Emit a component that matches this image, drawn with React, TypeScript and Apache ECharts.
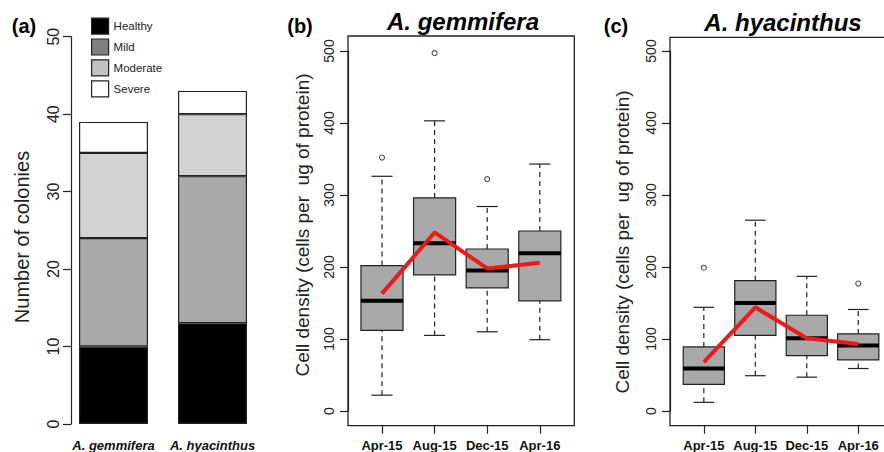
import React, { useEffect, useRef } from "react";
import * as echarts from "echarts";

// ---- Data ----
const speciesNames = ["A. gemmifera", "A. hyacinthus"];
const healthyCounts = [10, 13];
const mildCounts = [14, 19];
const moderateCounts = [11, 8];
const severeCounts = [4, 3];

const months = ["Apr-15", "Aug-15", "Dec-15", "Apr-16"];

// A. gemmifera boxplot stats
const gemLow = [22, 105, 110, 99];
const gemQ1 = [112, 189, 171, 153];
const gemMedian = [153, 233, 195, 219];
const gemQ3 = [202, 296, 225, 250];
const gemHigh = [326, 403, 284, 343];
const gemMean = [163, 248, 198, 206];
const gemOutliers = [[0, 352], [1, 497], [2, 322]];

// A. hyacinthus boxplot stats
const hyaLow = [12, 49, 47, 59];
const hyaQ1 = [37, 105, 77, 71];
const hyaMedian = [59, 150, 101, 91];
const hyaQ3 = [89, 181, 133, 107];
const hyaHigh = [144, 265, 187, 141];
const hyaMean = [68, 144, 101, 93];
const hyaOutliers = [[0, 199], [3, 177]];

const FONT = '"Liberation Sans", Arial, Helvetica, sans-serif';
const INK = "#222";

function boxData(lo: number[], q1: number[], med: number[], q3: number[], hi: number[]) {
  return lo.map((v, i) => [i, v, q1[i], med[i], q3[i], hi[i]]);
}

function renderBox(params: any, api: any) {
  const i = api.value(0);
  const pLo = api.coord([i, api.value(1)]);
  const pQ1 = api.coord([i, api.value(2)]);
  const pMed = api.coord([i, api.value(3)]);
  const pQ3 = api.coord([i, api.value(4)]);
  const pHi = api.coord([i, api.value(5)]);
  const band = api.size([1, 0])[0];
  const bw = (band * 0.8) / 2;
  const cw = (band * 0.4) / 2;
  const cx = pLo[0];
  const dashed = { stroke: INK, lineWidth: 1.2, lineDash: [5, 4], fill: null };
  const solid = { stroke: INK, lineWidth: 1.2, fill: null };
  return {
    type: "group",
    children: [
      { type: "line", shape: { x1: cx, y1: pLo[1], x2: cx, y2: pQ1[1] }, style: dashed },
      { type: "line", shape: { x1: cx, y1: pQ3[1], x2: cx, y2: pHi[1] }, style: dashed },
      { type: "line", shape: { x1: cx - cw, y1: pLo[1], x2: cx + cw, y2: pLo[1] }, style: solid },
      { type: "line", shape: { x1: cx - cw, y1: pHi[1], x2: cx + cw, y2: pHi[1] }, style: solid },
      {
        type: "rect",
        shape: { x: cx - bw, y: pQ3[1], width: 2 * bw, height: pQ1[1] - pQ3[1] },
        style: { fill: "#a9a9a9", stroke: INK, lineWidth: 1.2 },
      },
      {
        type: "line",
        shape: { x1: cx - bw, y1: pMed[1], x2: cx + bw, y2: pMed[1] },
        style: { stroke: "#000", lineWidth: 4 },
      },
    ],
  };
}

function valueY(gridIndex: number, offset: number) {
  return {
    type: "value",
    gridIndex,
    min: 0,
    max: 500,
    interval: 100,
    offset,
    axisLine: { show: true, lineStyle: { color: INK, width: 1.2 } },
    axisTick: { show: true, length: 8, lineStyle: { color: INK, width: 1.2 } },
    axisLabel: { rotate: 90, margin: 12, fontSize: 14, color: INK, fontFamily: FONT },
    splitLine: { show: false },
  };
}

function monthX(gridIndex: number) {
  return {
    type: "category",
    gridIndex,
    data: months,
    offset: 14.7,
    axisLine: { show: false, onZero: false },
    axisTick: { show: true, alignWithLabel: true, interval: 0, length: 8, lineStyle: { color: INK, width: 1.2 } },
    axisLabel: { interval: 0, hideOverlap: false, margin: 13, fontSize: 13, fontWeight: "bold", color: "#111", fontFamily: FONT },
  };
}

export default function App() {
  const ref = useRef<HTMLDivElement>(null);
  useEffect(() => {
    if (!ref.current) return;
    const chart = echarts.init(ref.current, null, { renderer: "svg" });
    const barBorder = { borderColor: INK, borderWidth: 1.2 };
    const option: any = {
      animation: false,
      backgroundColor: "#fff",
      grid: [
        { left: 64, width: 198, top: 36.7, height: 388.3 },
        { left: 355.7, width: 210.4, top: 51, height: 360 },
        { left: 678.1, width: 209.3, top: 51, height: 360 },
      ],
      legend: {
        orient: "vertical",
        left: 86,
        top: 12.5,
        itemWidth: 17,
        itemHeight: 16,
        itemGap: 3.7,
        icon: "rect",
        textStyle: { fontSize: 11.5, color: INK, fontFamily: FONT },
        data: [
          { name: "Healthy", itemStyle: { color: "#000", borderColor: INK, borderWidth: 1.2 } },
          { name: "Mild", itemStyle: { color: "#808080", borderColor: INK, borderWidth: 1.2 } },
          { name: "Moderate", itemStyle: { color: "#c2c2c2", borderColor: INK, borderWidth: 1.2 } },
          { name: "Severe", itemStyle: { color: "#fff", borderColor: INK, borderWidth: 1.2 } },
        ],
      },
      xAxis: [
        {
          type: "category",
          gridIndex: 0,
          data: speciesNames,
          axisLine: { show: false },
          axisTick: { show: false },
          axisLabel: {
            interval: 0,
            hideOverlap: false,
            margin: 15,
            fontSize: 13,
            fontWeight: "bold",
            fontStyle: "italic",
            color: "#111",
            fontFamily: FONT,
          },
        },
        monthX(1),
        monthX(2),
      ],
      yAxis: [
        {
          type: "value",
          gridIndex: 0,
          min: 0,
          max: 50,
          interval: 10,
          offset: -7,
          axisLine: { show: true, lineStyle: { color: INK, width: 1.2 } },
          axisTick: { show: true, length: 8, lineStyle: { color: INK, width: 1.2 } },
          axisLabel: { rotate: 90, margin: 10, fontSize: 16, color: INK, fontFamily: FONT },
          splitLine: { show: false },
        },
        valueY(1, 7.7),
        valueY(2, 8.1),
      ],
      series: [
        { name: "Healthy", type: "bar", stack: "a", barWidth: 69, data: healthyCounts, itemStyle: { color: "#000", ...barBorder } },
        { name: "Mild", type: "bar", stack: "a", barWidth: 69, data: mildCounts, itemStyle: { color: "#a9a9a9", ...barBorder } },
        { name: "Moderate", type: "bar", stack: "a", barWidth: 69, data: moderateCounts, itemStyle: { color: "#d3d3d3", ...barBorder } },
        { name: "Severe", type: "bar", stack: "a", barWidth: 69, data: severeCounts, itemStyle: { color: "#fff", ...barBorder } },
        {
          type: "custom",
          xAxisIndex: 1,
          yAxisIndex: 1,
          renderItem: renderBox,
          encode: { x: 0, y: [1, 2, 3, 4, 5] },
          data: boxData(gemLow, gemQ1, gemMedian, gemQ3, gemHigh),
          z: 2,
        },
        {
          type: "custom",
          xAxisIndex: 2,
          yAxisIndex: 2,
          renderItem: renderBox,
          encode: { x: 0, y: [1, 2, 3, 4, 5] },
          data: boxData(hyaLow, hyaQ1, hyaMedian, hyaQ3, hyaHigh),
          z: 2,
        },
        {
          type: "line",
          xAxisIndex: 1,
          yAxisIndex: 1,
          data: gemMean,
          symbol: "none",
          lineStyle: { color: "#f01818", width: 4 },
          z: 5,
        },
        {
          type: "line",
          xAxisIndex: 2,
          yAxisIndex: 2,
          data: hyaMean,
          symbol: "none",
          lineStyle: { color: "#f01818", width: 4 },
          z: 5,
        },
        {
          type: "scatter",
          xAxisIndex: 1,
          yAxisIndex: 1,
          data: gemOutliers,
          symbol: "circle",
          symbolSize: 5,
          itemStyle: { color: "#fff", borderColor: INK, borderWidth: 1.1 },
          z: 4,
        },
        {
          type: "scatter",
          xAxisIndex: 2,
          yAxisIndex: 2,
          data: hyaOutliers,
          symbol: "circle",
          symbolSize: 5,
          itemStyle: { color: "#fff", borderColor: INK, borderWidth: 1.1 },
          z: 4,
        },
      ],
      graphic: [
        { type: "rect", z: 100, shape: { x: 348, y: 36, width: 226.3, height: 389.7 }, style: { fill: null, stroke: INK, lineWidth: 1.3 } },
        { type: "rect", z: 100, shape: { x: 670, y: 37.3, width: 226, height: 388.4 }, style: { fill: null, stroke: INK, lineWidth: 1.3 } },
        { type: "text", x: 24, y: 26, style: { text: "(a)", font: `bold 20px ${FONT}`, fill: "#000", textAlign: "center", textVerticalAlign: "middle" } },
        { type: "text", x: 300, y: 26, style: { text: "(b)", font: `bold 20px ${FONT}`, fill: "#000", textAlign: "center", textVerticalAlign: "middle" } },
        { type: "text", x: 616, y: 26, style: { text: "(c)", font: `bold 20px ${FONT}`, fill: "#000", textAlign: "center", textVerticalAlign: "middle" } },
        { type: "text", x: 463, y: 21, style: { text: "A. gemmifera", font: `italic bold 24px ${FONT}`, fill: "#000", textAlign: "center", textVerticalAlign: "middle" } },
        { type: "text", x: 783, y: 22, style: { text: "A. hyacinthus", font: `italic bold 24px ${FONT}`, fill: "#000", textAlign: "center", textVerticalAlign: "middle" } },
        { type: "text", x: 22, y: 237, rotation: Math.PI / 2, style: { text: "Number of colonies", font: `20px ${FONT}`, fill: INK, textAlign: "center", textVerticalAlign: "middle" } },
        { type: "text", x: 302, y: 225, rotation: Math.PI / 2, style: { text: "Cell density (cells per  ug of protein)", font: `19px ${FONT}`, fill: INK, textAlign: "center", textVerticalAlign: "middle" } },
        { type: "text", x: 622, y: 242, rotation: Math.PI / 2, style: { text: "Cell density (cells per  ug of protein)", font: `19px ${FONT}`, fill: INK, textAlign: "center", textVerticalAlign: "middle" } },
      ],
    };
    chart.setOption(option);
    return () => chart.dispose();
  }, []);
  return (
    <div
      ref={ref}
      style={{ position: "absolute", left: 0, top: 0, width: 884, height: 452, background: "#fff" }}
    />
  );
}
